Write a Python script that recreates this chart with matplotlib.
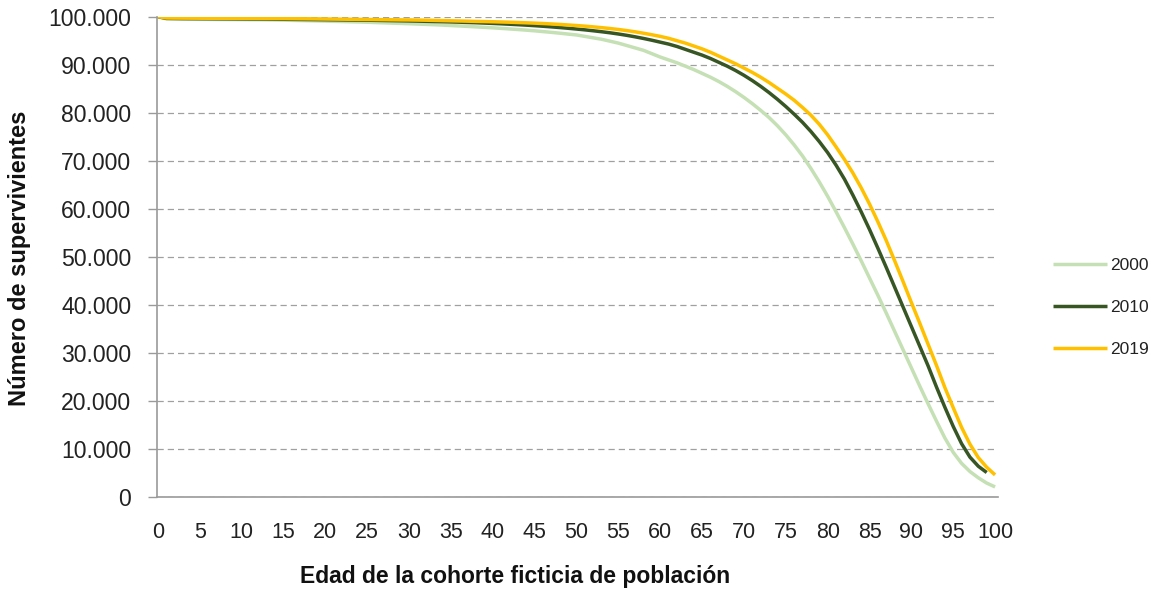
import matplotlib
matplotlib.use("Agg")
import matplotlib.pyplot as plt
from matplotlib.ticker import FuncFormatter

# ---------------- data ----------------
ages_2000 = list(range(0, 101))
surv_2000 = [
    100000, 99550, 99510, 99490, 99470, 99450, 99440, 99420, 99410, 99400,
    99390, 99370, 99360, 99340, 99310, 99280, 99240, 99200, 99160, 99120,
    99080, 99030, 98990, 98940, 98900, 98850, 98780, 98720, 98660, 98600,
    98540, 98470, 98400, 98330, 98250, 98160, 98070, 97980, 97880, 97780,
    97680, 97570, 97450, 97330, 97200, 97060, 96900, 96740, 96570, 96380,
    96200, 95900, 95600, 95300, 94900, 94500, 94000, 93500, 93000, 92300,
    91600, 91000, 90400, 89700, 89000, 88200, 87400, 86500, 85500, 84400,
    83200, 81900, 80500, 79000, 77300, 75400, 73300, 71000, 68400, 65600,
    62600, 59400, 56100, 52700, 49200, 45600, 42000, 38300, 34500, 30700,
    26900, 23100, 19400, 15800, 12300, 9300, 7000, 5300, 4000, 2900,
    2100,
]

ages_2010 = list(range(0, 100))
surv_2010 = [
    100000, 99650, 99630, 99610, 99600, 99590, 99580, 99570, 99560, 99550,
    99540, 99530, 99520, 99510, 99490, 99470, 99450, 99430, 99410, 99390,
    99370, 99350, 99330, 99310, 99290, 99270, 99240, 99210, 99180, 99150,
    99120, 99080, 99040, 99000, 98960, 98910, 98860, 98800, 98740, 98670,
    98600, 98520, 98430, 98340, 98240, 98130, 98010, 97880, 97740, 97590,
    97430, 97260, 97070, 96870, 96650, 96400, 96120, 95810, 95470, 95100,
    94700, 94300, 93800, 93200, 92600, 92000, 91300, 90500, 89700, 88800,
    87800, 86700, 85500, 84200, 82800, 81300, 79700, 78000, 76100, 74000,
    71700, 69100, 66200, 62900, 59400, 55700, 51800, 47800, 43700, 39600,
    35500, 31400, 27300, 22900, 18700, 14700, 11100, 8300, 6400, 5100,
]

ages_2019 = list(range(0, 101))
surv_2019 = [
    100000, 99730, 99710, 99700, 99690, 99680, 99675, 99670, 99665, 99660,
    99655, 99650, 99640, 99630, 99620, 99610, 99590, 99575, 99560, 99540,
    99520, 99500, 99480, 99460, 99440, 99420, 99400, 99380, 99360, 99340,
    99330, 99300, 99270, 99230, 99190, 99150, 99110, 99070, 99020, 98990,
    98950, 98900, 98850, 98790, 98730, 98660, 98580, 98490, 98390, 98280,
    98160, 98030, 97880, 97720, 97540, 97340, 97110, 96850, 96560, 96240,
    95900, 95500, 95000, 94500, 93900, 93300, 92600, 91800, 91000, 90200,
    89300, 88400, 87400, 86300, 85100, 83900, 82600, 81100, 79500, 77600,
    75400, 72900, 70300, 67500, 64400, 61000, 57300, 53400, 49200, 44900,
    40500, 36200, 31800, 27400, 22800, 18600, 14500, 11000, 8200, 6200,
    4600,
]

series_labels = ["2000", "2010", "2019"]
series_colors = ["#C5E0B4", "#375623", "#FFC000"]

x_ticks = list(range(0, 101, 5))
y_ticks = list(range(0, 100001, 10000))

x_title = "Edad de la cohorte ficticia de población"
y_title = "Número de supervivientes"

# ---------------- figure ----------------
W, H = 1161, 591
fig = plt.figure(figsize=(W / 100, H / 100), dpi=100)
ax = fig.add_axes([157 / W, (H - 497) / H, (998 - 157) / W, (497 - 16.7) / H])

for xs, ys, lab, col in zip([ages_2000, ages_2010, ages_2019],
                            [surv_2000, surv_2010, surv_2019],
                            series_labels, series_colors):
    ax.plot(xs, ys, color=col, lw=2.5, label=lab, solid_capstyle="butt",
            solid_joinstyle="round", zorder=3)

ax.set_xlim(-0.12, 100.35)
ax.set_ylim(0, 100000)

ax.set_xticks(x_ticks)
ax.set_xticklabels([str(t) for t in x_ticks])
ax.set_yticks(y_ticks)
ax.yaxis.set_major_formatter(FuncFormatter(lambda v, p: f"{int(v):,}".replace(",", ".")))

tick_font = "Liberation Sans"
for lab in ax.get_yticklabels():
    lab.set_fontfamily(tick_font)
    lab.set_fontsize(16.6)
    lab.set_color("#222222")
for lab in ax.get_xticklabels():
    lab.set_fontfamily(tick_font)
    lab.set_fontsize(15.5)
    lab.set_color("#222222")

ax.tick_params(axis="y", direction="out", length=6.5, width=1.0, color="#9A9A9A", pad=12)
ax.tick_params(axis="x", length=0, pad=18)

# grid
ax.yaxis.grid(True, color="#A0A0A0", lw=0.9, linestyle=(0, (5, 3.2)))
ax.xaxis.grid(False)
ax.set_axisbelow(True)

for s in ["top", "right"]:
    ax.spines[s].set_visible(False)
for s in ["left", "bottom"]:
    ax.spines[s].set_color("#9A9A9A")
    ax.spines[s].set_linewidth(1.2)

title_font = "Liberation Sans"
fig.text(515 / W, 1 - 577 / H, x_title, ha="center", va="center",
         fontsize=16.5, fontweight="bold", family=title_font, color="#111111")
fig.text(20 / W, 1 - 258 / H, y_title, rotation=90, ha="center", va="center",
         fontsize=17, fontweight="bold", family=title_font, color="#111111")

leg = fig.legend(loc="upper left", bbox_to_anchor=(1053 / W, 1 - 258 / H), frameon=False,
                 borderaxespad=0, borderpad=0,
                 handlelength=3.1, handletextpad=0.2, labelspacing=1.55,
                 prop={"family": "Liberation Sans", "size": 12.5})
for t in leg.get_texts():
    t.set_color("#222222")

fig.savefig("out.png", dpi=100)
